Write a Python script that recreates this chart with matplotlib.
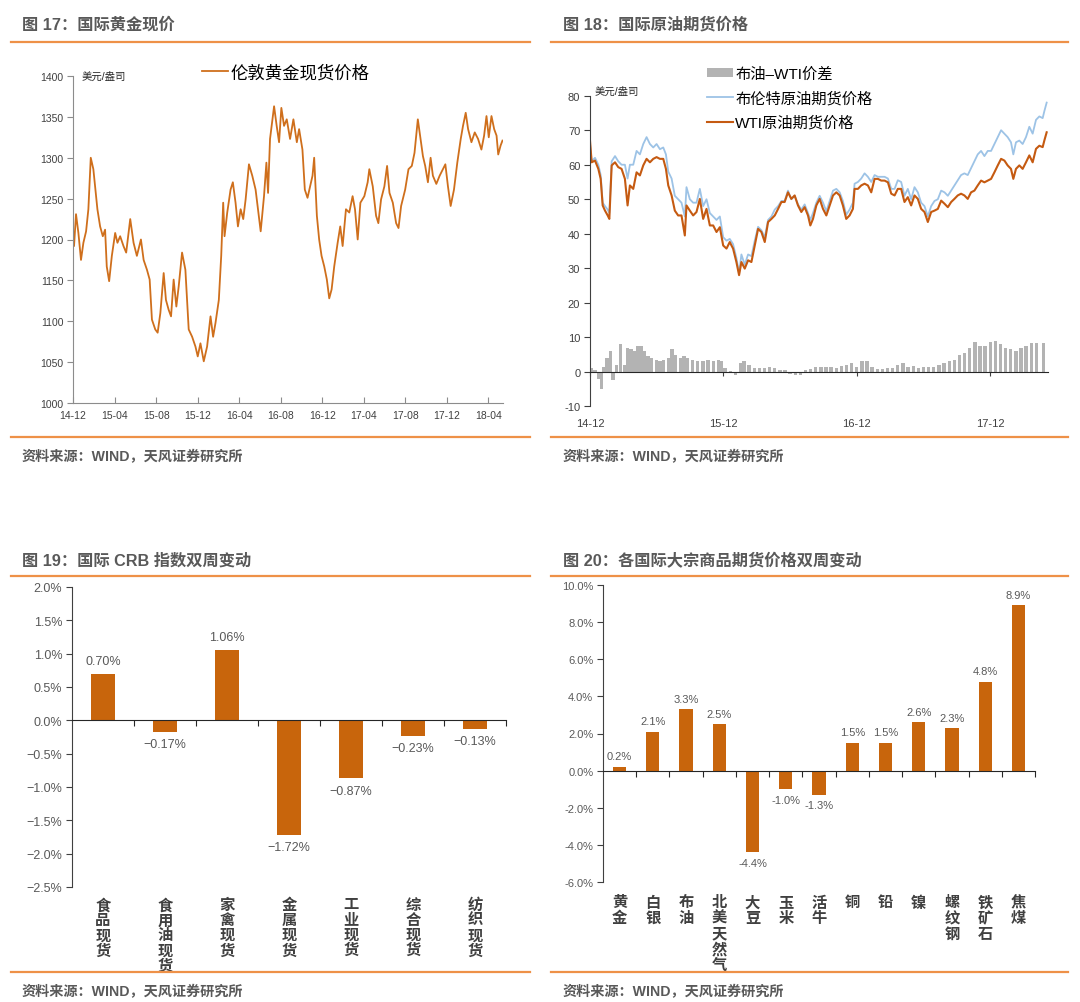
import matplotlib
matplotlib.use('Agg')
import matplotlib.pyplot as plt
from matplotlib.lines import Line2D
from matplotlib.transforms import blended_transform_factory
from matplotlib.ticker import FuncFormatter

plt.rcParams['font.family'] = ['Liberation Sans', 'Noto Sans CJK SC', 'DejaVu Sans']

# ---------------- data ----------------
# fig 17: London gold spot, x = months since 2014-12
gold_month = [0.0, 0.10, 0.29, 0.52, 0.77, 1.00, 1.26, 1.48, 1.71, 1.96, 2.19, 2.35, 2.61, 2.87,
              3.09, 3.25, 3.48, 3.74, 4.06, 4.28, 4.54, 4.86, 5.12, 5.51, 5.83, 6.15, 6.54, 6.80,
              7.12, 7.38, 7.60, 7.92, 8.15, 8.41, 8.73, 8.95, 9.21, 9.44, 9.69, 9.95, 10.18, 10.50,
              10.82, 11.14, 11.47, 11.79, 12.01, 12.27, 12.59, 12.91, 13.24, 13.49, 13.72, 14.04,
              14.27, 14.46, 14.59, 14.85, 15.17, 15.39, 15.65, 15.88, 16.14, 16.39, 16.62, 16.94,
              17.26, 17.58, 17.81, 18.07, 18.39, 18.62, 18.78, 18.97, 19.20, 19.36, 19.61, 19.84,
              20.06, 20.32, 20.58, 20.90, 21.22, 21.55, 21.77, 22.09, 22.32, 22.58, 22.83, 23.06,
              23.22, 23.48, 23.70, 23.93, 24.19, 24.44, 24.67, 24.90, 25.15, 25.48, 25.73, 25.96,
              26.28, 26.60, 26.92, 27.15, 27.41, 27.67, 28.05, 28.37, 28.53, 28.86, 29.18, 29.40,
              29.66, 29.98, 30.24, 30.47, 30.79, 31.11, 31.34, 31.59, 31.98, 32.30, 32.62, 32.88,
              33.20, 33.46, 33.69, 33.91, 34.17, 34.43, 34.65, 34.98, 35.30, 35.62, 35.85, 36.10,
              36.36, 36.68, 37.00, 37.33, 37.55, 37.81, 38.04, 38.36, 38.68, 39.00, 39.32, 39.58,
              39.81, 40.03, 40.29, 40.55, 40.78, 40.94, 41.17, 41.35]
gold_price = [1212, 1192, 1231, 1208, 1175, 1196, 1210, 1237, 1300, 1286, 1257, 1237, 1216, 1204,
              1212, 1167, 1149, 1180, 1208, 1196, 1204, 1192, 1184, 1225, 1196, 1180, 1200, 1175,
              1163, 1151, 1102, 1090, 1086, 1110, 1159, 1126, 1114, 1106, 1151, 1118, 1143, 1184,
              1163, 1090, 1081, 1069, 1057, 1073, 1051, 1069, 1106, 1081, 1098, 1126,
              1180, 1245, 1204, 1233, 1261, 1270, 1245, 1216, 1237, 1225, 1249, 1292,
              1278, 1261, 1237, 1210, 1253, 1294, 1257, 1323, 1347, 1363, 1339, 1319,
              1361, 1339, 1347, 1323, 1347, 1319, 1335, 1310, 1261, 1251, 1265, 1278,
              1300, 1229, 1200, 1180, 1167, 1151, 1128, 1139, 1167, 1196, 1216, 1192,
              1237, 1233, 1253, 1237, 1200, 1245, 1253, 1270, 1286, 1265, 1229, 1220,
              1249, 1265, 1290, 1257, 1245, 1220, 1214, 1241, 1261, 1286, 1290, 1306,
              1347, 1323, 1302, 1290, 1270, 1300, 1278, 1268, 1278, 1286, 1292, 1265,
              1241, 1261, 1294, 1323, 1339, 1355, 1335, 1319, 1331, 1323, 1310, 1327,
              1351, 1325, 1351, 1335, 1327, 1304, 1315, 1321]
gold_ticks = ['14-12', '15-04', '15-08', '15-12', '16-04', '16-08', '16-12',
              '17-04', '17-08', '17-12', '18-04']

# fig 18: crude oil futures, x = months since 2014-12
oil_month = [0.0, 0.15, 0.45, 0.75, 0.96, 1.14, 1.35, 1.59, 1.74, 1.95, 2.25, 2.54, 2.84, 3.14,
             3.38, 3.59, 3.89, 4.19, 4.49, 4.79, 5.09, 5.39, 5.69, 5.99, 6.29, 6.59, 6.83, 7.04,
             7.34, 7.63, 7.93, 8.23, 8.53, 8.68, 8.98, 9.28, 9.58, 9.88, 10.18, 10.48, 10.78,
             11.08, 11.38, 11.68, 11.98, 12.28, 12.57, 12.87, 13.17, 13.41, 13.62, 13.92, 14.22,
             14.52, 14.82, 15.12, 15.42, 15.72, 16.02, 16.32, 16.62, 16.92, 17.22, 17.51, 17.81,
             18.11, 18.41, 18.71, 19.01, 19.31, 19.61, 19.82, 20.06, 20.36, 20.66, 20.96, 21.26,
             21.56, 21.86, 22.16, 22.46, 22.75, 23.05, 23.35, 23.65, 23.80, 24.10, 24.40, 24.70,
             25.00, 25.30, 25.60, 25.90, 26.20, 26.50, 26.80, 27.10, 27.40, 27.69, 27.99, 28.29,
             28.59, 28.89, 29.19, 29.49, 29.79, 30.09, 30.39, 30.69, 30.99, 31.29, 31.59, 31.89,
             32.19, 32.49, 32.78, 33.08, 33.38, 33.68, 33.98, 34.28, 34.58, 34.88, 35.18, 35.48,
             35.78, 36.08, 36.38, 36.68, 36.98, 37.28, 37.57, 37.87, 38.08, 38.32, 38.62, 38.92,
             39.22, 39.52, 39.82, 40.12, 40.42, 40.72, 40.87, 41.08]
wti = [67.0, 60.7, 61.2, 58.8, 55.9, 48.2, 46.7, 45.3, 44.3, 59.8, 60.7, 59.3, 58.8, 55.9,
       48.2, 54.0, 53.0, 57.8, 56.9, 59.8, 61.7, 60.7, 61.7, 62.2, 61.7, 61.7, 58.8, 54.0,
       51.1, 46.7, 45.3, 45.3, 39.5, 48.2, 46.7, 45.3, 46.3, 50.1, 44.3, 47.2, 42.4,
       42.4, 40.5, 41.9, 36.6, 35.7, 37.6, 35.7, 31.8, 28.0, 31.8, 29.9, 32.3,
       31.8, 36.6, 41.4, 40.5, 37.6, 43.4, 44.3, 45.3, 47.2, 49.2, 49.2, 52.0,
       50.1, 51.1, 48.2, 46.3, 47.7, 45.3, 42.4, 44.3, 48.2, 50.1, 47.2, 45.3,
       48.2, 51.1, 52.0, 51.1, 48.2, 44.3, 45.3, 47.2, 53.0, 53.0, 54.0, 54.5,
       54.0, 52.0, 55.9, 55.9, 55.4, 55.4, 54.9, 51.6, 51.1, 53.0, 53.0, 49.2,
       50.6, 48.2, 51.1, 50.1, 47.2, 46.3, 43.4, 46.3, 46.7, 47.2, 49.6, 48.7,
       47.7, 49.2, 50.1, 51.1, 51.6, 51.1, 50.1, 52.0, 52.5, 54.0, 55.4, 54.9,
       55.4, 55.9, 57.8, 59.8, 61.7, 61.2, 59.8, 58.8, 55.9, 58.8, 59.8, 58.8,
       60.7, 62.7, 60.7, 64.6, 65.5, 65.1, 67.0, 69.4]
brent = [66.0, 61.0, 62.0, 60.0, 57.0, 49.0, 48.0, 47.0, 46.0, 61.0, 62.5, 61.0, 60.0, 60.0,
         56.0, 60.0, 60.0, 64.0, 63.0, 66.0, 68.0, 66.0, 65.0, 66.0, 64.5, 65.0, 63.0, 58.0,
         56.0, 51.0, 50.0, 49.0, 45.0, 53.5, 50.0, 49.0, 49.0, 53.0, 48.0, 50.0, 46.0,
         45.0, 44.0, 45.0, 39.0, 38.0, 38.5, 37.0, 33.0, 28.5, 34.0, 31.0, 34.0,
         33.5, 38.0, 42.0, 41.0, 39.0, 44.0, 45.0, 47.0, 48.0, 49.5, 49.5, 52.5,
         50.0, 51.0, 48.5, 47.0, 48.5, 46.0, 44.0, 46.0, 49.0, 51.0, 49.0, 46.5,
         49.5, 52.5, 53.0, 52.0, 49.5, 45.5, 47.0, 49.0, 54.5, 55.0, 56.0, 57.5,
         56.5, 55.0, 57.0, 56.5, 56.5, 56.5, 56.0, 53.0, 53.0, 55.5, 55.0, 51.0,
         53.0, 50.0, 53.5, 52.0, 49.0, 48.0, 45.0, 48.0, 49.5, 50.0, 52.5, 52.0,
         51.0, 52.5, 54.0, 55.5, 57.0, 57.5, 57.0, 59.0, 61.0, 63.0, 64.0, 62.5,
         64.0, 64.0, 66.0, 68.0, 70.0, 69.0, 68.0, 66.5, 63.0, 66.5, 67.0, 66.0,
         68.0, 71.0, 69.0, 73.0, 74.0, 73.5, 75.5, 78.0]
spread_month = [0.15, 0.46, 0.77, 1.02, 1.23, 1.54, 1.85, 2.06, 2.37, 2.77, 3.08, 3.38, 3.69, 4.00,
                4.31, 4.62, 4.92, 5.23, 5.54, 6.00, 6.31, 6.62, 7.08, 7.38, 7.69, 8.15, 8.46, 8.77,
                9.23, 9.69, 10.15, 10.62, 11.08, 11.54, 11.85, 12.15, 12.62, 13.08, 13.54, 13.85,
                14.31, 14.77, 15.23, 15.69, 16.15, 16.62, 17.08, 17.54, 18.00, 18.46, 18.92, 19.38,
                19.85, 20.31, 20.77, 21.23, 21.69, 22.15, 22.62, 23.08, 23.54, 24.00, 24.46, 24.92,
                25.38, 25.85, 26.31, 26.77, 27.23, 27.69, 28.15, 28.62, 29.08, 29.54, 30.00, 30.46,
                30.92, 31.38, 31.85, 32.31, 32.77, 33.23, 33.69, 34.15, 34.62, 35.08, 35.54, 36.00,
                36.46, 36.92, 37.38, 37.85, 38.31, 38.77, 39.23, 39.69, 40.15, 40.77]
spread = [1.0, 0.5, -2.0, -5.0, 1.5, 4.0, 6.0, -2.5, 2.0, 8.0, 2.0, 7.0, 6.5, 6.0,
          7.5, 7.5, 6.0, 4.5, 4.0, 3.5, 3.0, 3.5, 4.0, 6.5, 5.0, 4.0, 4.5, 4.0,
          3.5, 3.0, 3.0, 3.5, 3.0, 3.5, 3.0, 1.0, 0.3, -1.0, 2.5, 3.0,
          2.0, 1.0, 1.0, 1.0, 1.5, 1.0, 0.5, 0.5, -0.5, -0.8, -1.0, 0.5,
          0.8, 1.5, 1.5, 1.5, 1.5, 1.2, 1.8, 2.0, 2.5, 1.5, 3.2, 3.2,
          1.5, 0.8, 0.8, 1.0, 1.2, 2.0, 2.5, 1.5, 1.8, 1.2, 1.5, 1.5,
          1.5, 2.0, 2.5, 3.0, 3.5, 5.0, 5.5, 7.0, 8.5, 7.5, 7.5, 8.5,
          8.8, 8.0, 7.0, 6.5, 6.0, 7.0, 7.5, 8.3, 8.2, 8.3]
oil_tick_month = [0, 12, 24, 36]
oil_ticks = ['14-12', '15-12', '16-12', '17-12']

# fig 19: CRB sub-indices, two-week change (%)
crb_names = ['食品现货', '食用油现货', '家禽现货', '金属现货', '工业现货', '综合现货', '纺织现货']
crb_change = [0.70, -0.17, 1.06, -1.72, -0.87, -0.23, -0.13]

# fig 20: commodity futures, two-week change (%)
fut_names = ['黄金', '白银', '布油', '北美天然气', '大豆', '玉米', '活牛', '铜', '铅', '镍',
             '螺纹钢', '铁矿石', '焦煤']
fut_change = [0.2, 2.1, 3.3, 2.5, -4.4, -1.0, -1.3, 1.5, 1.5, 2.6, 2.3, 4.8, 8.9]

# ---------------- style ----------------
W, H = 1080, 1003
RULE = '#EE9148'
TXT = '#595959'
AXC = '#8c8c8c'
BAR = '#C8650C'
GOLD = '#CF6F1C'
WTI_C = '#C55A11'
BRENT_C = '#9DC3E6'
SPREAD_C = '#b3b3b3'

fig = plt.figure(figsize=(W / 100, H / 100), dpi=100)


def fx(x):
    return x / W


def fy(y):
    return 1 - y / H


def axes_px(left, top, right, bottom):
    return fig.add_axes([left / W, 1 - bottom / H, (right - left) / W, (bottom - top) / H])


def rule(x0, x1, y):
    fig.add_artist(Line2D([fx(x0), fx(x1)], [fy(y), fy(y)], transform=fig.transFigure,
                          color=RULE, lw=1.6))


def header(x, y, text):
    fig.text(fx(x), fy(y), text, fontsize=11.7, fontweight='bold', color=TXT,
             ha='left', va='center')


def source(x, y):
    fig.text(fx(x), fy(y), '资料来源：WIND，天风证券研究所', fontsize=10.2, fontweight='bold',
             color=TXT, ha='left', va='center')


# frames of the four blocks
header(22, 25, '图 17：国际黄金现价')
header(563, 25, '图 18：国际原油期货价格')
header(22, 561, '图 19：国际 CRB 指数双周变动')
header(563, 561, '图 20：各国际大宗商品期货价格双周变动')
for x0, x1 in [(11, 530), (551, 1068)]:
    rule(x0, x1, 43)
    rule(x0, x1, 438)
    rule(x0, x1, 577)
    rule(x0, x1, 973)
source(22, 457)
source(563, 457)
source(22, 992)
source(563, 992)

# ---------------- fig 17 ----------------
ax1 = axes_px(73, 77, 503, 404)
ln_gold, = ax1.plot(gold_month, gold_price, color=GOLD, lw=1.3, label='伦敦黄金现货价格')
ax1.set_xlim(0, 41.4)
ax1.set_ylim(1000, 1400)
ax1.set_yticks(range(1000, 1401, 50))
ax1.set_xticks(range(0, 41, 4))
ax1.set_xticklabels(gold_ticks)
for s in ['top', 'right']:
    ax1.spines[s].set_visible(False)
for s in ['left', 'bottom']:
    ax1.spines[s].set_color(AXC)
ax1.tick_params(axis='y', direction='out', length=4, color=AXC, labelsize=7.5, labelcolor='#404040', pad=3)
ax1.tick_params(axis='x', direction='in', length=4, color=AXC, labelsize=7.5, labelcolor='#404040', pad=5)
fig.text(fx(82), fy(77), '美元/盎司', fontsize=7.5, color='#262626', ha='left', va='center')
fig.legend(handles=[ln_gold], loc='center left', bbox_to_anchor=(fx(202), fy(73)),
           bbox_transform=fig.transFigure, frameon=False, fontsize=12.5,
           handlelength=1.5, handletextpad=0.15, borderpad=0, borderaxespad=0)

# ---------------- fig 18 ----------------
ax2 = axes_px(590, 96.7, 1048, 407.3)
bars_sp = ax2.bar(spread_month, spread, width=0.3, color=SPREAD_C, label='布油–WTI价差')
ln_brent, = ax2.plot(oil_month, brent, color=BRENT_C, lw=1.3, label='布伦特原油期货价格')
ln_wti, = ax2.plot(oil_month, wti, color=WTI_C, lw=1.5, label='WTI原油期货价格')
ax2.set_xlim(0, 41.2)
ax2.set_ylim(-10, 80)
ax2.set_yticks(range(-10, 81, 10))
ax2.set_yticklabels([str(v) for v in range(-10, 81, 10)])
ax2.set_xticks(oil_tick_month)
ax2.set_xticklabels(oil_ticks)
for s in ['top', 'right']:
    ax2.spines[s].set_visible(False)
ax2.spines['bottom'].set_position(('data', 0))
ax2.spines['bottom'].set_color('#262626')
ax2.spines['left'].set_color('#404040')
ax2.tick_params(axis='y', direction='out', length=4, color='#404040', labelsize=8, labelcolor='#404040', pad=3)
ax2.tick_params(axis='x', direction='out', length=3, color='#404040', labelsize=8, labelcolor='#404040', pad=30)
fig.text(fx(595), fy(92), '美元/盎司', fontsize=7.5, color='#262626', ha='left', va='center')
fig.legend(handles=[bars_sp, ln_brent, ln_wti], loc='upper left', bbox_to_anchor=(fx(707), fy(68)),
           bbox_transform=fig.transFigure, frameon=False, fontsize=11,
           handlelength=1.7, handleheight=0.5, handletextpad=0.15, labelspacing=0.62,
           borderpad=0, borderaxespad=0)


# ---------------- fig 19 / fig 20 ----------------
def bar_panel(ax, names, vals, ylo, yhi, step, fmt_tick, fmt_val, val_fs, tick_fs, off, lab_top, lab_ls):
    n = len(names)
    ax.bar(range(n), vals, width=0.4, color=BAR)
    ax.set_xlim(-0.5, n - 0.5)
    ax.set_ylim(ylo, yhi)
    nt = int(round((yhi - ylo) / step))
    ax.set_yticks([ylo + i * step for i in range(nt + 1)])
    ax.yaxis.set_major_formatter(FuncFormatter(lambda v, p: fmt_tick(v)))
    ax.set_xticks([i + 0.5 for i in range(n)])
    ax.set_xticklabels([])
    for s in ['top', 'right']:
        ax.spines[s].set_visible(False)
    ax.spines['bottom'].set_position(('data', 0))
    ax.spines['bottom'].set_color('#262626')
    ax.spines['left'].set_color('#404040')
    ax.tick_params(axis='y', direction='out', length=4, color='#404040', labelsize=tick_fs, labelcolor=TXT, pad=3)
    ax.tick_params(axis='x', direction='out', length=4, color='#262626')
    for i, v in enumerate(vals):
        ax.annotate(fmt_val(v), (i, v), xytext=(0, off if v >= 0 else -off), textcoords='offset points',
                    ha='center', va='center', fontsize=val_fs, color=TXT)
    tr = blended_transform_factory(ax.transData, ax.transAxes)
    for i, name in enumerate(names):
        ax.text(i, lab_top, '\n'.join(name), transform=tr, ha='center', va='top', fontsize=11,
                fontweight='bold', color='#404040', linespacing=lab_ls)


ax3 = axes_px(72, 588, 506, 888)
bar_panel(ax3, crb_names, crb_change, -2.5, 2.0, 0.5,
          lambda v: f'{v:.1f}%'.replace('-', '−'),
          lambda v: f'{v:.2f}%'.replace('-', '−'),
          9, 9, 9, -0.035, 1.1)

ax4 = axes_px(603, 586, 1035, 883)
bar_panel(ax4, fut_names, fut_change, -6.0, 10.0, 2.0,
          lambda v: f'{v:.1f}%',
          lambda v: f'{v:.1f}%',
          8, 8, 7.5, -0.045, 1.12)

fig.savefig('out.png', dpi=100, facecolor='white')
